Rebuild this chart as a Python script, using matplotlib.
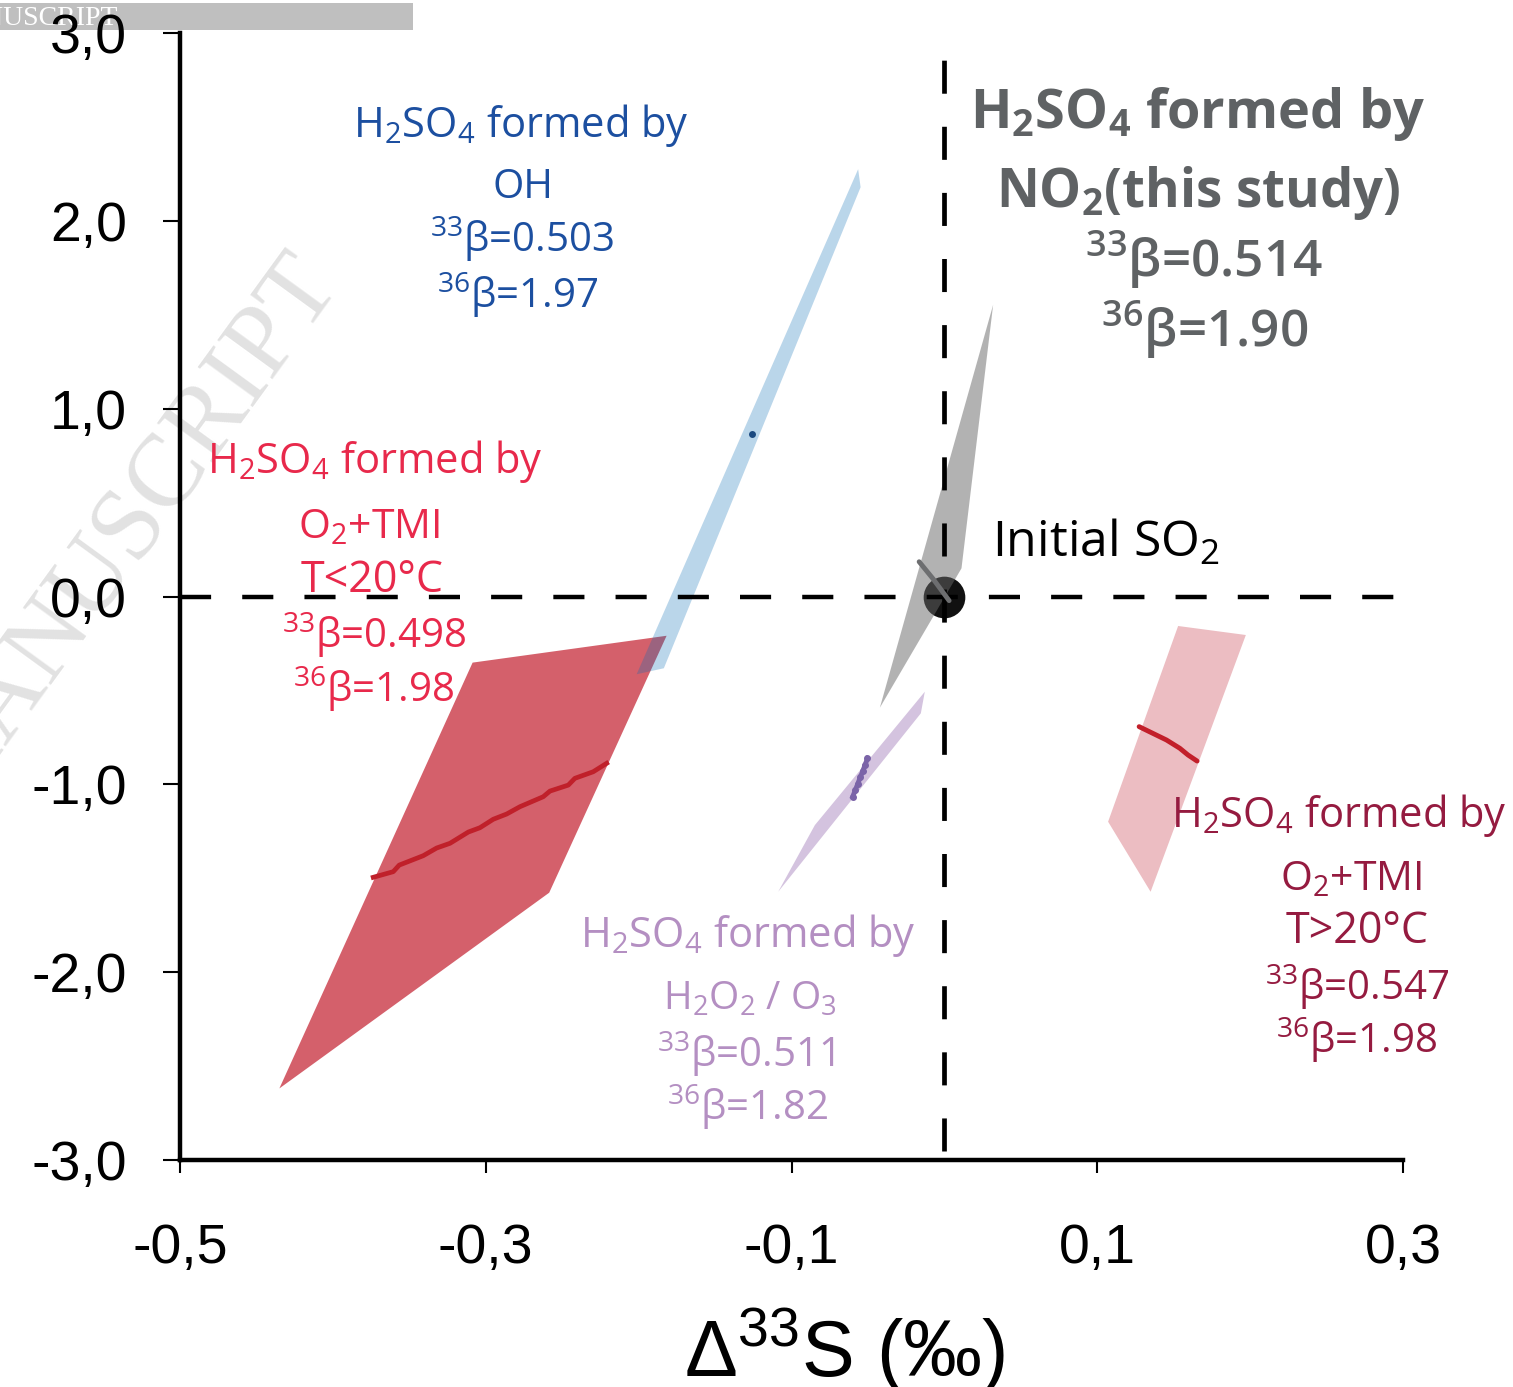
import numpy as np
import matplotlib
matplotlib.use("Agg")
import matplotlib.pyplot as plt
from matplotlib.patches import Polygon, Rectangle
from matplotlib.ticker import FixedLocator, FuncFormatter

# ---- data (D33S, D36S in permil) ----
# O2+TMI, T<20C : shaded range and model line
cold_tmi_region_x = [-0.3086, -0.1817, -0.2585, -0.4350]
cold_tmi_region_y = [-0.352, -0.209, -1.577, -2.619]
cold_tmi_x = [-0.3736, -0.3605, -0.3566, -0.3409, -0.3321, -0.3234, -0.3114, -0.3038,
              -0.2951, -0.2863, -0.2776, -0.2624, -0.2580, -0.2460, -0.2417, -0.2297, -0.2209]
cold_tmi_y = [-1.495, -1.465, -1.430, -1.380, -1.339, -1.314, -1.254, -1.231,
              -1.186, -1.158, -1.119, -1.066, -1.036, -1.004, -0.968, -0.933, -0.888]

# OH
oh_region_x = [-0.0564, -0.0548, -0.1835, -0.2013]
oh_region_y = [2.275, 2.179, -0.382, -0.414]
oh_x = [-0.1257]
oh_y = [0.865]

# NO2 (this study)
no2_region_x = [0.0319, 0.0112, -0.0422]
no2_region_y = [1.553, 0.150, -0.592]
no2_x = [-0.0165, -0.0075, 0.0031]
no2_y = [0.185, 0.095, -0.022]

# H2O2 / O3
h2o2_region_x = [-0.0128, -0.0154, -0.1087, -0.0847]
h2o2_region_y = [-0.507, -0.622, -1.572, -1.217]
h2o2_x = [-0.0503, -0.0518, -0.0534, -0.0550, -0.0566, -0.0583, -0.0600]
h2o2_y = [-0.862, -0.895, -0.930, -0.962, -0.996, -1.032, -1.066]

# O2+TMI, T>20C
warm_tmi_region_x = [0.1529, 0.1972, 0.1349, 0.1071]
warm_tmi_region_y = [-0.157, -0.205, -1.572, -1.199]
warm_tmi_x = [0.1274, 0.1453, 0.1540, 0.1594, 0.1653]
warm_tmi_y = [-0.693, -0.764, -0.808, -0.844, -0.876]

so2_x, so2_y = 0.0, 0.0

xticks = [-0.5, -0.3, -0.1, 0.1, 0.3]
yticks = [-3, -2, -1, 0, 1, 2, 3]

W, H = 1513, 1387
fig = plt.figure(figsize=(W / 100, H / 100), dpi=100)


def fpos(x, y):
    return x / W, 1 - y / H


ax = fig.add_axes([180 / W, 1 - 1160 / H, 1223 / W, 1127 / H])
ax.patch.set_alpha(0)
ax.set_xlim(-0.5, 0.3)
ax.set_ylim(-3, 3)

for s in ["top", "right"]:
    ax.spines[s].set_visible(False)
for s in ["left", "bottom"]:
    ax.spines[s].set_linewidth(3.2)

ax.xaxis.set_major_locator(FixedLocator(xticks))
ax.yaxis.set_major_locator(FixedLocator(yticks))
ax.xaxis.set_major_formatter(FuncFormatter(lambda v, p: f"{v:.1f}".replace(".", ",")))
ax.yaxis.set_major_formatter(FuncFormatter(lambda v, p: f"{v:.1f}".replace(".", ",")))
ax.tick_params(axis="y", direction="out", length=12, width=1.5, pad=26,
               labelsize=40, labelfontfamily="Liberation Sans")
ax.tick_params(axis="x", direction="out", length=9, width=1.5, pad=36,
               labelsize=40, labelfontfamily="Liberation Sans")

# shaded ranges
ax.add_patch(Polygon(np.column_stack([cold_tmi_region_x, cold_tmi_region_y]),
                     closed=True, fc="#d4606b", ec="none", zorder=1))
ax.add_patch(Polygon(np.column_stack([oh_region_x, oh_region_y]),
                     closed=True, fc="#0a6cb4", alpha=0.28, ec="none", zorder=1.5))
ax.add_patch(Polygon(np.column_stack([h2o2_region_x, h2o2_region_y]),
                     closed=True, fc="#d4c3df", ec="none", zorder=1))
ax.add_patch(Polygon(np.column_stack([warm_tmi_region_x, warm_tmi_region_y]),
                     closed=True, fc="#ecbdc2", ec="none", zorder=1))

# initial SO2 and NO2 range over it
ax.plot([so2_x], [so2_y], "o", ms=30, color="#111111", mec="none", zorder=2, clip_on=False)
ax.add_patch(Polygon(np.column_stack([no2_region_x, no2_region_y]),
                     closed=True, fc="#676767", alpha=0.5, ec="none", zorder=3))

# reference dashed lines
ax.plot([-0.5, 0.311], [0, 0], color="black", lw=3.2, dashes=(7, 7), zorder=4, clip_on=False)
ax.plot([0, 0], [-2.95, 3.02], color="black", lw=3.4, dashes=(7, 7), zorder=4, clip_on=False)

# model curves
ax.plot(cold_tmi_x, cold_tmi_y, color="#c0202a", lw=3.4, zorder=5)
ax.plot(warm_tmi_x, warm_tmi_y, color="#c21f2a", lw=3.5, solid_capstyle="round", zorder=5)
ax.plot(no2_x, no2_y, color="#6d6e70", lw=3.5, solid_capstyle="round", zorder=5)
ax.plot(h2o2_x, h2o2_y, color="#7b64a8", lw=3.5, marker="o", ms=4, zorder=5)
ax.plot(oh_x, oh_y, "o", ms=5, color="#1c4a80", mec="none", zorder=5)

# annotations
F = "Open Sans"
blue, grey, red, lilac, wine = "#1c4fa0", "#5f6264", "#e8294b", "#b48fc2", "#951b40"
labels = [
    ("H$_\\mathregular{2}$SO$_\\mathregular{4}$ formed by", 521, 137, blue, 30, "normal"),
    ("OH", 523, 198, blue, 29, "normal"),
    ("$^\\mathregular{33}$β=0.503", 522, 252, blue, 29, "normal"),
    ("$^\\mathregular{36}$β=1.97", 518, 308, blue, 29, "normal"),

    ("H$_\\mathregular{2}$SO$_\\mathregular{4}$ formed by", 1198, 128, grey, 39, "bold"),
    ("NO$_\\mathregular{2}$(this study)", 1198, 207, grey, 38, "bold"),
    ("$^\\mathregular{33}$β=0.514", 1204, 277, grey, 37, "semibold"),
    ("$^\\mathregular{36}$β=1.90", 1205, 347, grey, 37, "semibold"),

    ("H$_\\mathregular{2}$SO$_\\mathregular{4}$ formed by", 375, 473, red, 30, "normal"),
    ("O$_\\mathregular{2}$+TMI", 369, 538, red, 29.5, "normal"),
    ("T<20°C", 372, 592, red, 31, "normal"),
    ("$^\\mathregular{33}$β=0.498", 374, 648, red, 29, "normal"),
    ("$^\\mathregular{36}$β=1.98", 374, 702, red, 29, "normal"),

    ("H$_\\mathregular{2}$SO$_\\mathregular{4}$ formed by", 748, 947, lilac, 30, "normal"),
    ("H$_\\mathregular{2}$O$_\\mathregular{2}$ / O$_\\mathregular{3}$", 750, 1010, lilac, 28, "normal"),
    ("$^\\mathregular{33}$β=0.511", 746, 1067, lilac, 29, "normal"),
    ("$^\\mathregular{36}$β=1.82", 748, 1120, lilac, 29, "normal"),

    ("H$_\\mathregular{2}$SO$_\\mathregular{4}$ formed by", 1339, 827, wine, 30, "normal"),
    ("O$_\\mathregular{2}$+TMI", 1351, 890, wine, 29.5, "normal"),
    ("T>20°C", 1357, 943, wine, 31, "normal"),
    ("$^\\mathregular{33}$β=0.547", 1357, 1000, wine, 29, "normal"),
    ("$^\\mathregular{36}$β=1.98", 1357, 1053, wine, 29, "normal"),

    ("Initial SO$_\\mathregular{2}$", 1106, 557, "black", 36, "normal"),
]
for txt, x, y, c, size, weight in labels:
    fig.text(*fpos(x, y), txt, color=c, fontsize=size, fontweight=weight,
             family=F, ha="center", va="baseline")

fig.text(*fpos(845, 1377), "Δ$^\\mathregular{33}$S (‰)", fontsize=57,
         family="Liberation Sans", ha="center", va="baseline")

# accepted-manuscript watermark and banner
fig.patches.append(Rectangle(fpos(0, 30), 413 / W, 27 / H, transform=fig.transFigure,
                             fc="#bfbfbf", ec="none", zorder=-2))
fig.text(*fpos(117, 25), "ACCEPTED MANUSCRIPT", color="white", fontsize=20,
         family="Liberation Serif", ha="right", va="baseline", zorder=-1)
fig.text(*fpos(342, 285), "ACCEPTED MANUSCRIPT", color="#e2e2e2", fontsize=74,
         family="Liberation Serif", ha="right", va="baseline", rotation=54,
         rotation_mode="anchor", zorder=-1)

fig.savefig("out.png", dpi=100, facecolor="white")
